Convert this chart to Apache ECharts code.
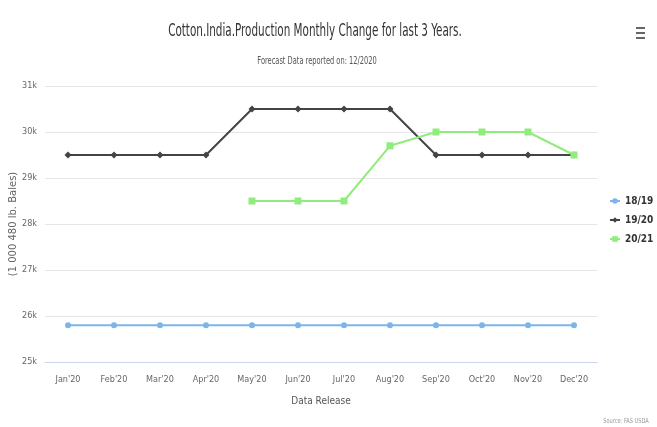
<!DOCTYPE html>
<html>
<head>
<meta charset="utf-8">
<script src="https://cdn.jsdelivr.net/npm/echarts@6/dist/echarts.min.js"></script>
<style>
  html, body { margin: 0; padding: 0; background: #fff; }
  #main { width: 657px; height: 427px; }
</style>
</head>
<body>
<div id="main"></div>
<script>
var months = ["Jan'20", "Feb'20", "Mar'20", "Apr'20", "May'20", "Jun'20",
              "Jul'20", "Aug'20", "Sep'20", "Oct'20", "Nov'20", "Dec'20"];
var s1819 = [25800, 25800, 25800, 25800, 25800, 25800, 25800, 25800, 25800, 25800, 25800, 25800];
var s1920 = [29500, 29500, 29500, 29500, 30500, 30500, 30500, 30500, 29500, 29500, 29500, 29500];
var s2021 = [null, null, null, null, 28500, 28500, 28500, 29700, 30000, 30000, 30000, 29500];

var titleText = 'Cotton.India.Production Monthly Change for last 3 Years.';
var subText = 'Forecast Data reported on: 12/2020';
var sourceText = 'Source: FAS USDA';

var font = "'Liberation Sans Narrow', 'DejaVu Sans Condensed', sans-serif";

var chart = echarts.init(document.getElementById('main'));

function line(name, data, color, symbol, size) {
    return {
        name: name,
        type: 'line',
        data: data,
        symbol: symbol,
        symbolSize: size,
        connectNulls: false,
        lineStyle: { color: color, width: 2 },
        itemStyle: { color: color },
        emphasis: { disabled: true }
    };
}

// narrow text: squeeze horizontally, the original font is very condensed
function narrowText(text, x, y, size, color, sx) {
    return {
        type: 'text',
        x: x, y: y,
        scaleX: sx,
        style: {
            text: text,
            font: size + 'px ' + font,
            fill: color,
            align: 'center',
            verticalAlign: 'middle'
        }
    };
}

chart.setOption({
    animation: false,
    textStyle: { fontFamily: font },
    legend: {
        orient: 'vertical',
        left: 604,
        top: 191,
        itemGap: 9,
        itemWidth: 10,
        itemHeight: 7,
        data: ['18/19', '19/20', '20/21'],
        textStyle: { fontFamily: font, fontSize: 10, fontWeight: 'bold', color: '#333' }
    },
    grid: { left: 45, right: 60, top: 86, bottom: 65, outerBoundsMode: 'none' },
    xAxis: {
        type: 'category',
        data: months,
        boundaryGap: true,
        name: 'Data Release',
        nameLocation: 'middle',
        nameGap: 34,
        nameTextStyle: { fontFamily: font, fontSize: 10, color: '#555' },
        axisLine: { lineStyle: { color: '#ccd6eb' } },
        axisTick: { alignWithLabel: false, length: 9, lineStyle: { color: '#ccd6eb' } },
        axisLabel: { fontFamily: font, fontSize: 9, color: '#666', margin: 13 }
    },
    yAxis: {
        type: 'value',
        min: 25000,
        max: 31000,
        interval: 1000,
        name: '(1 000 480 lb. Bales)',
        nameLocation: 'middle',
        nameGap: 27,
        nameMoveOverlap: false,
        nameTextStyle: { fontFamily: 'DejaVu Sans', fontSize: 10, color: '#666' },
        axisLine: { show: false },
        axisTick: { show: false },
        axisLabel: {
            fontFamily: font, fontSize: 9, color: '#666', margin: 8,
            formatter: function(v) { return (v / 1000) + 'k'; }
        },
        splitLine: { lineStyle: { color: '#e6e6e6' } }
    },
    series: [
        line('18/19', s1819, '#7cb5ec', 'circle', 6),
        line('19/20', s1920, '#434348', 'diamond', 7),
        line('20/21', s2021, '#90ed7d', 'rect', 7)
    ],
    graphic: [
        narrowText(titleText, 315, 32, 17, '#333', 0.68),
        narrowText(subText, 317, 61, 10, '#555', 0.74),
        narrowText(sourceText, 626, 421, 7, '#999', 0.8),
        { type: 'rect', left: 636, top: 27, shape: { width: 9, height: 2 }, style: { fill: '#666' } },
        { type: 'rect', left: 636, top: 32, shape: { width: 9, height: 2 }, style: { fill: '#666' } },
        { type: 'rect', left: 636, top: 37, shape: { width: 9, height: 2 }, style: { fill: '#666' } }
    ]
});
</script>
</body>
</html>
